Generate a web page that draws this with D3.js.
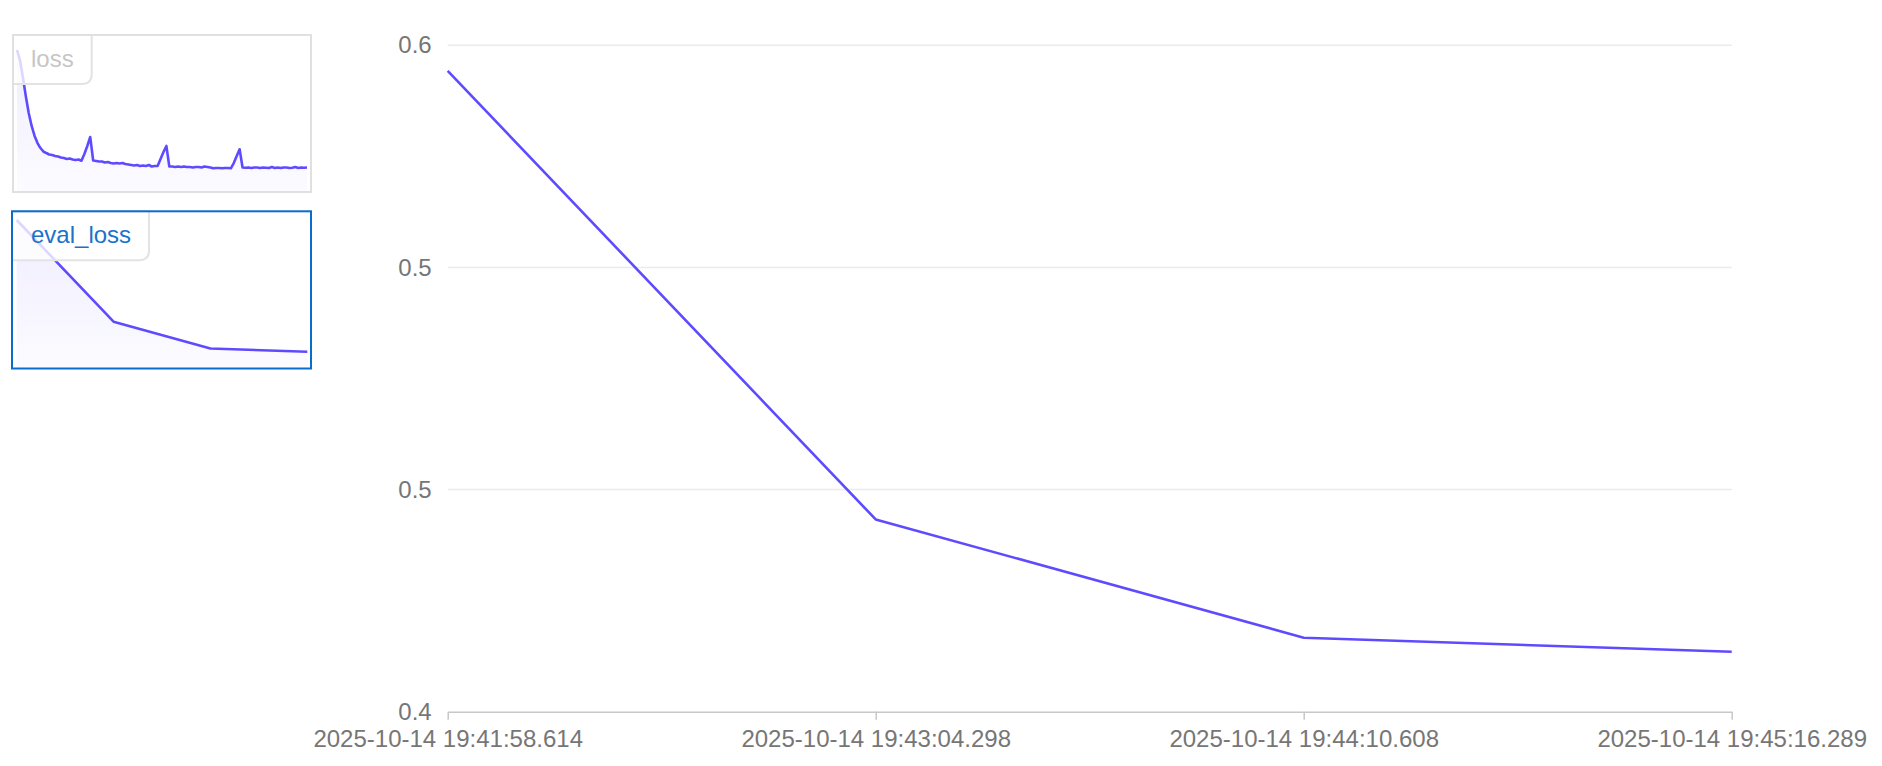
<!DOCTYPE html>
<html>
<head>
<meta charset="utf-8">
<script src="https://cdn.jsdelivr.net/npm/d3@7"></script>
<style>
  html, body { margin: 0; padding: 0; background: #ffffff; }
  svg { display: block; font-family: "Liberation Sans", Arial, Helvetica, sans-serif; }
</style>
</head>
<body>
<svg id="chart" width="1882" height="766"></svg>
<script>
// ---------- data ----------
const timeLabels = [
  "2025-10-14 19:41:58.614",
  "2025-10-14 19:43:04.298",
  "2025-10-14 19:44:10.608",
  "2025-10-14 19:45:16.289"
];
const evalLoss = [0.5923, 0.4577, 0.4222, 0.4180];
const yTickValues = [0.4, 0.4667, 0.5333, 0.6];
const yTickLabels = ["0.4", "0.5", "0.5", "0.6"];
const yDomain = [0.4, 0.6];

// training loss (thumbnail sparkline)
const trainLoss = [
  1.655, 1.543, 1.353, 1.140, 0.949, 0.804, 0.692, 0.613, 0.557, 0.518,
  0.501, 0.485, 0.479, 0.468, 0.462, 0.451, 0.445, 0.434, 0.440, 0.429,
  0.423, 0.429, 0.415, 0.490, 0.580, 0.681, 0.417, 0.412, 0.406, 0.406,
  0.395, 0.401, 0.389, 0.384, 0.389, 0.384, 0.389, 0.378, 0.373, 0.367,
  0.361, 0.367, 0.356, 0.361, 0.356, 0.367, 0.350, 0.356, 0.356, 0.434,
  0.513, 0.580, 0.350, 0.350, 0.345, 0.350, 0.345, 0.350, 0.345, 0.345,
  0.339, 0.345, 0.345, 0.339, 0.350, 0.345, 0.339, 0.330, 0.333, 0.333,
  0.330, 0.333, 0.333, 0.330, 0.389, 0.468, 0.543, 0.339, 0.337, 0.339,
  0.333, 0.339, 0.339, 0.333, 0.339, 0.337, 0.333, 0.345, 0.333, 0.339,
  0.333, 0.339, 0.339, 0.333, 0.337, 0.345, 0.333, 0.339, 0.337, 0.339
];
const thumbNames = ["loss", "eval_loss"];

// ---------- style / layout ----------
const lineColor = "#5F4BFF";
const textColor = "#767676";
const gridColor = "#ebebeb";
const axisColor = "#c8c8c8";
const fontSize = 24;
const fontFamily = '"Liberation Sans", Arial, Helvetica, sans-serif';

const plot = { left: 447.7, right: 1731.7, top: 45.3, bottom: 711.7 };

const svg = d3.select("#chart");

// gradient for thumbnail areas
const defs = svg.append("defs");
const grad = defs.append("linearGradient").attr("id", "thumbFill")
  .attr("x1", 0).attr("y1", 0).attr("x2", 0).attr("y2", 1);
grad.append("stop").attr("offset", "0%").attr("stop-color", lineColor).attr("stop-opacity", 0.10);
grad.append("stop").attr("offset", "100%").attr("stop-color", lineColor).attr("stop-opacity", 0.02);

// ---------- main chart ----------
const x = d3.scalePoint().domain(timeLabels).range([plot.left, plot.right]);
const y = d3.scaleLinear().domain(yDomain).range([plot.bottom, plot.top]);

// grid lines
svg.append("g").selectAll("line")
  .data(yTickValues.filter(v => v > yDomain[0]))
  .join("line")
  .attr("x1", plot.left).attr("x2", plot.right)
  .attr("y1", d => y(d)).attr("y2", d => y(d))
  .attr("stroke", gridColor).attr("stroke-width", 1.5);

// y axis (labels only)
const yAxis = svg.append("g")
  .attr("transform", `translate(${plot.left},0)`)
  .call(d3.axisLeft(y).tickValues(yTickValues)
    .tickFormat((d, i) => yTickLabels[i]).tickSize(0).tickPadding(16));
yAxis.attr("font-size", fontSize).attr("font-family", fontFamily);
yAxis.select(".domain").remove();
yAxis.selectAll("text").attr("fill", textColor);

// x axis
const xAxis = svg.append("g")
  .attr("transform", `translate(0,${plot.bottom})`)
  .call(d3.axisBottom(x).tickSizeInner(8).tickSizeOuter(0).tickPadding(10));
xAxis.attr("font-size", fontSize).attr("font-family", fontFamily);
xAxis.select(".domain").attr("stroke", axisColor).attr("stroke-width", 1.5);
xAxis.selectAll(".tick line").attr("stroke", axisColor).attr("stroke-width", 1.5);
xAxis.selectAll("text").attr("fill", textColor);

// main line
svg.append("path")
  .datum(evalLoss)
  .attr("fill", "none")
  .attr("stroke", lineColor)
  .attr("stroke-width", 2.6)
  .attr("stroke-linejoin", "round")
  .attr("d", d3.line().x((d, i) => x(timeLabels[i])).y(d => y(d)));

// ---------- thumbnails ----------
const thumbs = [
  { name: thumbNames[0], data: trainLoss, box: { x: 13, y: 35, w: 298, h: 157 },
    inner: { l: 17, r: 307, top: 50, bottom: 168.3 }, selected: false },
  { name: thumbNames[1], data: evalLoss, box: { x: 12, y: 211.3, w: 299, h: 157.2 },
    inner: { l: 16.7, r: 307.3, top: 220, bottom: 351.7 }, selected: true }
];

thumbs.forEach(t => {
  const g = svg.append("g");
  const tx = d3.scaleLinear().domain([0, t.data.length - 1]).range([t.inner.l, t.inner.r]);
  const ty = d3.scaleLinear().domain(d3.extent(t.data)).range([t.inner.bottom, t.inner.top]);
  const boxBottom = t.box.y + t.box.h;

  g.append("rect").attr("x", t.box.x).attr("y", t.box.y)
    .attr("width", t.box.w).attr("height", t.box.h).attr("fill", "#ffffff");

  g.append("path").datum(t.data)
    .attr("fill", "url(#thumbFill)")
    .attr("d", d3.area().x((d, i) => tx(i)).y0(boxBottom - 1).y1(d => ty(d)));

  g.append("path").datum(t.data)
    .attr("fill", "none").attr("stroke", lineColor).attr("stroke-width", 2.6)
    .attr("stroke-linejoin", "round")
    .attr("d", d3.line().x((d, i) => tx(i)).y(d => ty(d)));

  const lx = t.box.x, ly = t.box.y, lh = 49, r = 10;
  const boxPath = g.append("path");
  const label = g.append("text")
    .attr("x", 31).attr("y", ly + lh / 2 + 1)
    .attr("dominant-baseline", "middle")
    .attr("font-size", fontSize)
    .attr("font-family", fontFamily)
    .style("font-size", fontSize + "px")
    .attr("fill", t.selected ? "#1a72c9" : "#c6c6c6")
    .text(t.name);
  const tw = label.node().getComputedTextLength();
  const lw = (31 - lx) + tw + 18;
  boxPath
    .attr("d", `M${lx},${ly} H${lx + lw} V${ly + lh - r} Q${lx + lw},${ly + lh} ${lx + lw - r},${ly + lh} H${lx} Z`)
    .attr("fill", "rgba(255,255,255,0.78)")
    .attr("stroke", "#e3e3e3").attr("stroke-width", 2);

  g.append("rect").attr("x", t.box.x).attr("y", t.box.y)
    .attr("width", t.box.w).attr("height", t.box.h)
    .attr("fill", "none")
    .attr("stroke", t.selected ? "#0a6ccc" : "#e0e0e0")
    .attr("stroke-width", 2);
});
</script>
</body>
</html>
